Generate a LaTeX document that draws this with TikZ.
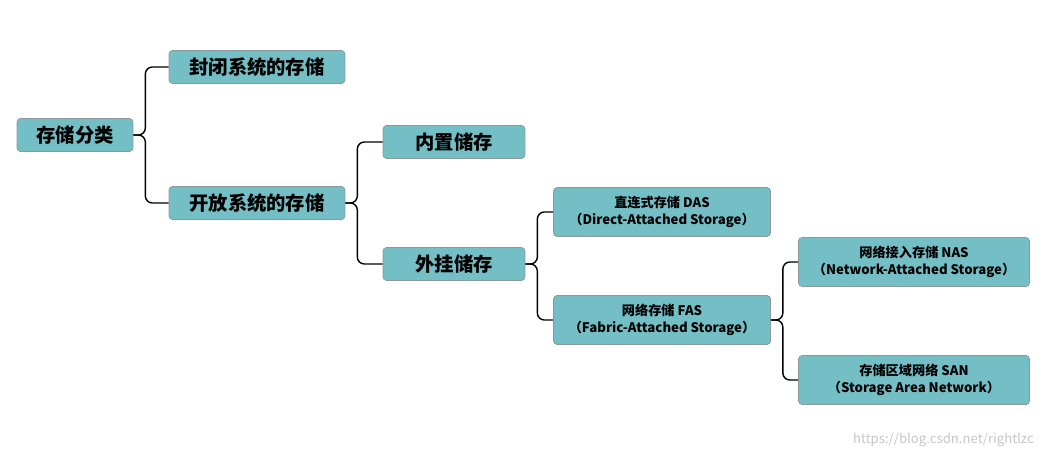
\documentclass[tikz,border=0pt]{standalone}
\usepackage{fontspec}
\setmainfont{Noto Sans CJK SC}
\usetikzlibrary{positioning}
\definecolor{boxfill}{HTML}{73BFC5}
\definecolor{boxline}{HTML}{8A9A9C}
\begin{document}
\begin{tikzpicture}[x=0.02cm,y=-0.02cm,
  box/.style={draw=boxline, fill=boxfill, rounded corners=2pt, inner sep=1pt, align=center},
  big/.style={box, font=\fontsize{11}{13}\selectfont\bfseries},
  small/.style={box, font=\fontsize{7.5}{10}\selectfont\bfseries},
  link/.style={thick, rounded corners=4pt}]
\useasboundingbox (0,0) rectangle (1048,457);

% Level 1
\node[big, minimum width=2.32cm, minimum height=0.66cm] (root) at (75,135) {存储分类};

% Level 2
\node[big, minimum width=3.52cm, minimum height=0.66cm] (closed) at (257,67) {封闭系统的存储};
\node[big, minimum width=3.52cm, minimum height=0.66cm] (open) at (257,203) {开放系统的存储};

% Level 3
\node[big, minimum width=2.84cm, minimum height=0.66cm] (inner) at (454,142) {内置储存};
\node[big, minimum width=2.84cm, minimum height=0.66cm] (outer) at (454,264) {外挂储存};

% Level 4
\node[small, minimum width=4.34cm, minimum height=0.98cm] (das) at (662,212) {直连式存储 DAS\\（Direct-Attached Storage）};
\node[small, minimum width=4.34cm, minimum height=0.98cm] (fas) at (662,320) {网络存储 FAS\\（Fabric-Attached Storage）};

% Level 5
\node[small, minimum width=4.62cm, minimum height=0.98cm] (nas) at (914,262) {网络接入存储 NAS\\（Network-Attached Storage）};
\node[small, minimum width=4.62cm, minimum height=0.98cm] (san) at (914,380) {存储区域网络 SAN\\（Storage Area Network）};

% Connectors
\foreach \p/\c in {root/closed, root/open, open/inner, open/outer,
                   outer/das, outer/fas, fas/nas, fas/san}
{
	\draw[link] (\p.east) -- ++(12,0) |- (\c.west);
}

% Watermark
\node[text=gray!45, font=\fontsize{7.5}{9}\selectfont, anchor=east] (mark) at (1040,440) {https://blog.csdn.net/rightlzc};
\end{tikzpicture}
\end{document}
